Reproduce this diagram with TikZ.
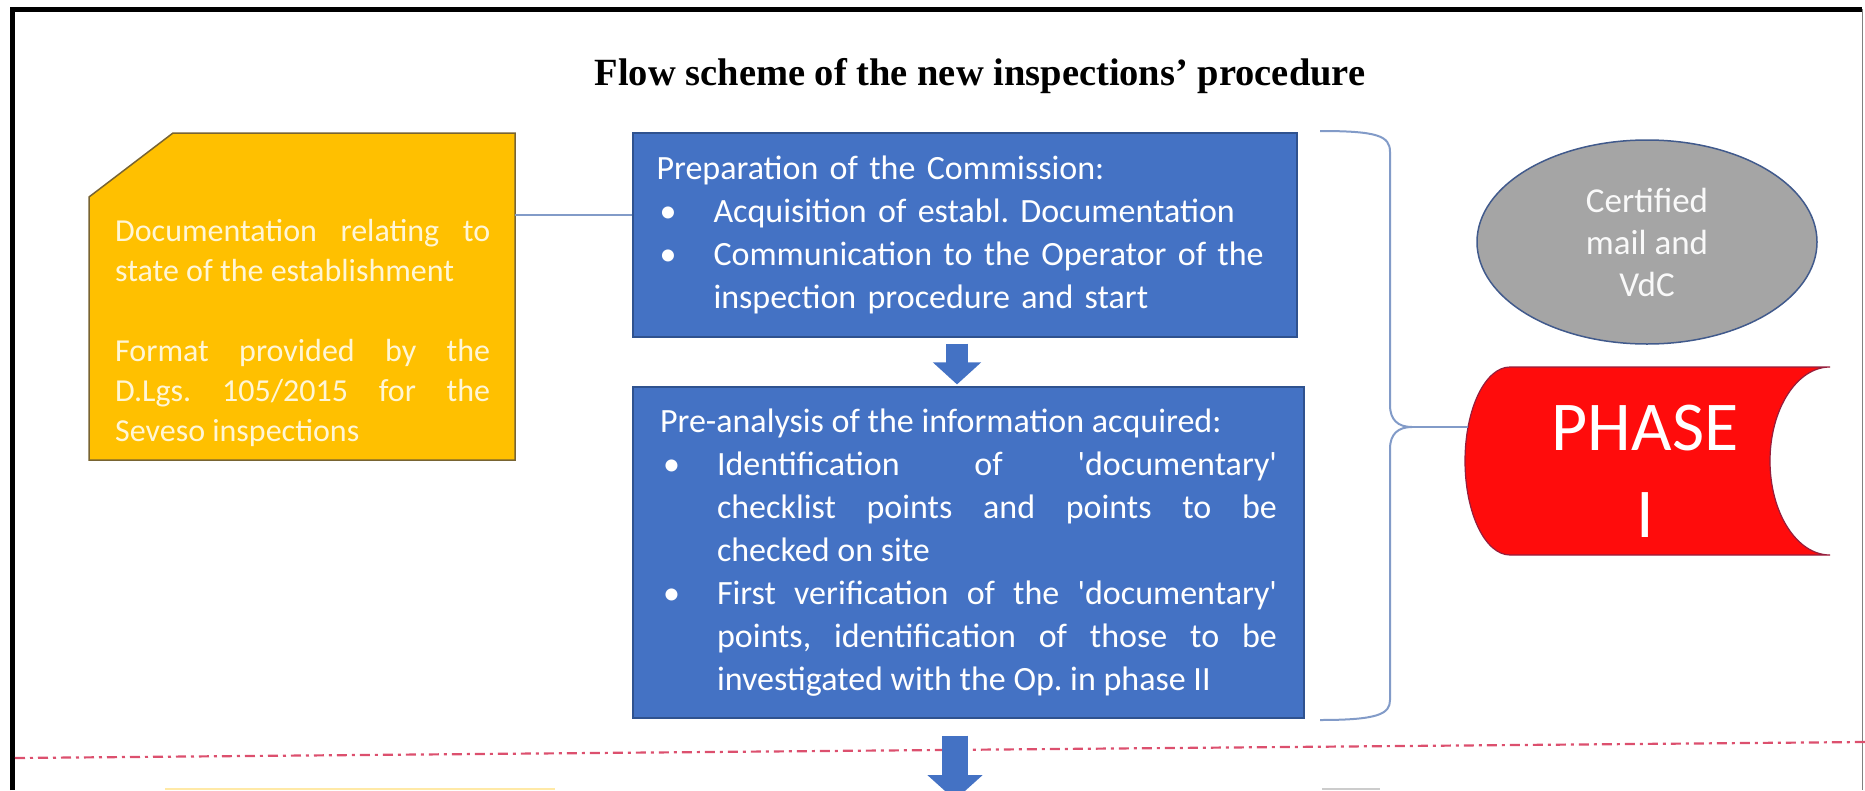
\documentclass[tikz,border=0pt]{standalone}
\usepackage{fontspec}
\setmainfont{Carlito}
\newfontfamily\titlefont{Liberation Serif}
\usepackage{xcolor}
\definecolor{boxblue}{RGB}{68,114,196}
\definecolor{boxedge}{RGB}{47,82,143}
\definecolor{docgold}{RGB}{255,192,0}
\definecolor{docedge}{RGB}{120,100,50}
\definecolor{doccream}{RGB}{255,246,214}
\definecolor{linkblue}{RGB}{130,155,200}
\definecolor{ellgray}{RGB}{165,165,165}
\definecolor{elledge}{RGB}{65,90,140}
\definecolor{phasered}{RGB}{255,12,12}
\definecolor{phaseedge}{RGB}{150,30,60}
\definecolor{sepred}{RGB}{220,80,110}
\usetikzlibrary{shapes.geometric, arrows.meta}
\setlength{\parindent}{0pt}
\frenchspacing
\newcommand{\bitem}[1]{\par\hangindent=57pt\hangafter=1\noindent\makebox[57pt][l]{\hspace*{3pt}\textbullet}#1\par}

\begin{document}
\begin{tikzpicture}[x=1pt, y=-1pt,
	stepbox/.style={draw=boxedge, line width=1.2pt, fill=boxblue, text=white, inner sep=0pt, text width=617pt, align=justify, font=\fontsize{34}{43}\selectfont},
	doctext/.style={text=doccream, inner sep=0pt, text width=375pt, align=justify, font=\fontsize{32}{40}\selectfont},
	flowarrow/.style={draw=boxblue, line width=22pt, -{Triangle[width=47pt,length=22pt]}},
	link/.style={draw=linkblue, line width=2pt},
	sepline/.style={draw=sepred, line width=2.2pt, dash pattern=on 10pt off 5pt on 3pt off 5pt}]
	\useasboundingbox (0,0) rectangle (1865,790);
	% frame
	\draw[line width=5pt] (12,790) -- (12,9) -- (1862,9);
	\draw[gray, line width=1pt] (1862,9) -- (1862,790);
	\node[font=\titlefont\bfseries\fontsize{38.5}{44}\selectfont] (title) at (980,76) {Flow scheme of the new inspections’ procedure};
	% documentation
	\draw[draw=docedge, line width=1.5pt, fill=docgold] (89,197) -- (173,133) -- (515,133) -- (515,460) -- (89,460) -- cycle;
	\node[doctext, anchor=north west] (doc) at (115,219) {Documentation relating to\linebreak state of the establishment\par\vspace{40pt}Format provided by the\linebreak D.Lgs. 105/2015 for the\linebreak Seveso inspections};
	\coordinate (docE) at (515,215);
	% phase I steps
	\node[stepbox, align=left, minimum width=664pt, minimum height=204pt] (prep) at (965,235) {Preparation of the Commission:
		\bitem{Acquisition of establ. Documentation}
		\bitem{Communication to the Operator of the\linebreak inspection procedure and start}};
	\node[stepbox, minimum width=671pt, minimum height=331pt] (pre) at (968.5,552.5) {Pre-analysis of the information acquired:
		\bitem{Identification of \textquotesingle documentary\textquotesingle\linebreak checklist points and points to be\linebreak checked on site}
		\bitem{First verification of the \textquotesingle documentary\textquotesingle\linebreak points, identification of those to be\linebreak investigated with the Op. in phase II}};
	\draw[link] (docE) -- (docE -| prep.west);
	\coordinate (ax1) at (957,0);
	\draw[flowarrow, shorten <=6pt, shorten >=2pt] (prep.south -| ax1) -- (pre.north -| ax1);
	% brace and phase label
	\node[ellipse, draw=elledge, line width=1.5pt, fill=ellgray, text=white!95!gray, minimum width=340pt, minimum height=204pt, inner sep=0pt, align=center, font=\fontsize{35}{42}\selectfont] (mail) at (1647,242) {Certified\\mail and\\VdC};
	\draw[draw=phaseedge, line width=1.2pt, fill=phasered] (1510,367) -- (1830,367) arc[start angle=-90, end angle=-270, x radius=60, y radius=94] -- (1510,555) arc[start angle=90, end angle=270, x radius=45, y radius=94] -- cycle;
	\node[text=white, align=center, font=\fontsize{70}{87}\selectfont] (phase) at (1645,471) {PHASE\\I};
	\coordinate (braceTip) at (1412,427);
	\coordinate (phaseW) at (1468,427);
	\draw[link] (1320,131) .. controls (1378,131) and (1390,136) .. (1390,152) -- (1390,405) .. controls (1390,420) and (1398,427) .. (braceTip) .. controls (1398,427) and (1390,434) .. (1390,449) -- (1390,700) .. controls (1390,714) and (1378,720) .. (1320,720);
	\draw[link] (braceTip) -- (phaseW);
	% separator and next phase
	\draw[sepline] (15,758) -- (1865,742);
	\coordinate (ax2) at (955,0);
	\coordinate (nextStep) at (955,800);
	\draw[flowarrow, line width=26pt, -{Triangle[width=54pt,length=25pt]}, shorten <=17pt] (pre.south -| ax2) -- (nextStep);
	\draw[docgold!35, line width=1.5pt] (165,789) -- (555,789);
	\draw[gray!40, line width=1.5pt] (1322,789) -- (1380,789);
\end{tikzpicture}
\end{document}
